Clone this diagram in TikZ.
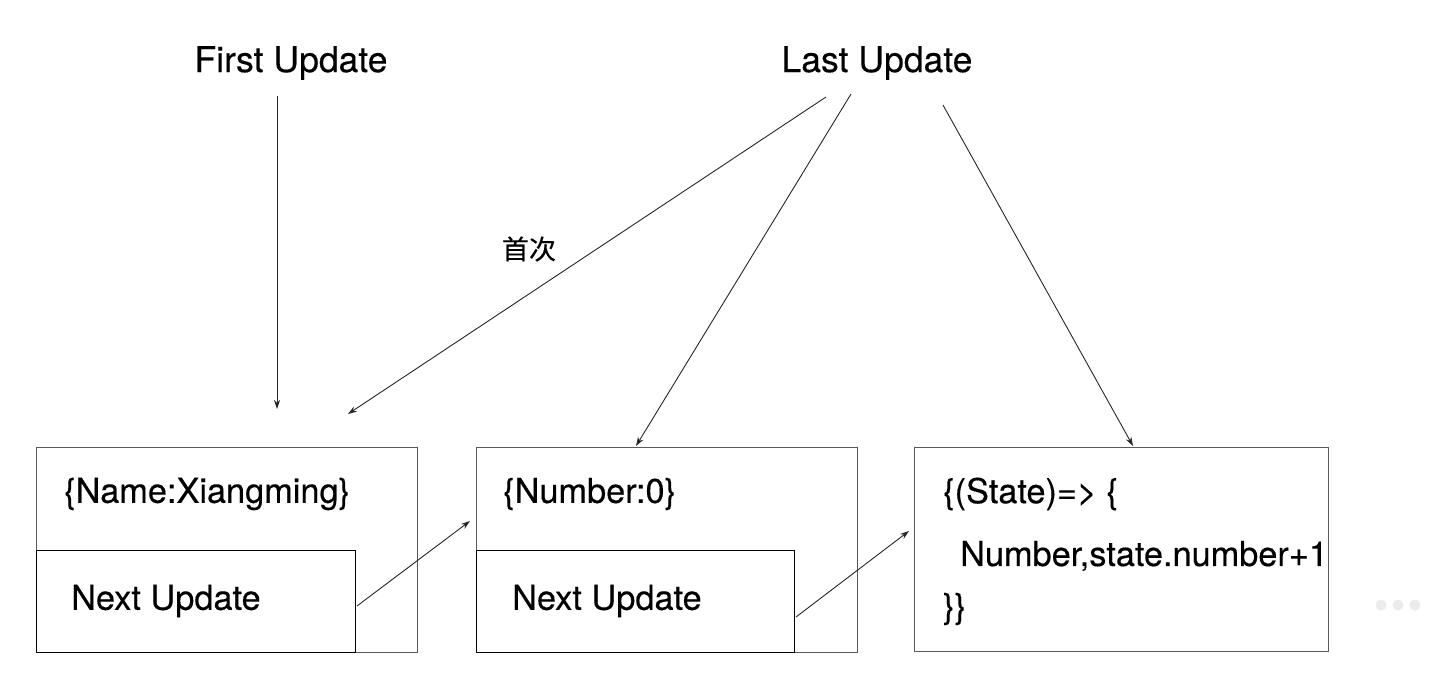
\documentclass[tikz,border=0pt]{standalone}
\usepackage{fontspec}
\setmainfont{TeX Gyre Heros}[FakeBold=0.3]
\newfontfamily\cjk{Noto Sans CJK SC}[FakeBold=0.3]
\usetikzlibrary{arrows.meta}
\tikzset{
  outerbox/.style={draw=black!65, line width=1.3pt, fill=white, inner sep=0pt, anchor=north west},
  innerbox/.style={draw=black, line width=1.3pt, fill=white, inner sep=0pt, anchor=north west},
  title/.style={font=\fontsize{35.5}{42}\selectfont, inner sep=0pt},
  boxtext/.style={font=\fontsize{34.3}{42}\selectfont, inner sep=0pt, anchor=west},
  conn/.style={draw=black!85, line width=0.9pt, -{Stealth[length=9pt,width=6pt]}},
  dot/.style={circle, fill=black!8, draw=none, minimum size=11pt, inner sep=0pt}
}
\begin{document}
\begin{tikzpicture}[x=1pt,y=-1pt]
\useasboundingbox (0,0) rectangle (1450,690);
% titles
\node[title] (first) at (291,63) {First Update};
\node[title] (last) at (877,63) {Last Update};
\node[font=\cjk\fontsize{27}{32}\selectfont, inner sep=0pt] (shouci) at (529,249) {首次};
% boxes
\node[outerbox, minimum width=381pt, minimum height=205pt] (b1) at (36,447) {};
\node[innerbox, minimum width=319pt, minimum height=102pt] (n1) at (36,550) {};
\node[outerbox, minimum width=381pt, minimum height=205pt] (b2) at (476,447) {};
\node[innerbox, minimum width=318pt, minimum height=102pt] (n2) at (476,550) {};
\node[outerbox, minimum width=414pt, minimum height=204pt] (b3) at (914,447) {};
% box texts
\node[boxtext] (t1) at (64,494) {\{Name:Xiangming\}};
\node[boxtext] (t1n) at (71,601) {Next Update};
\node[boxtext] (t2) at (503,494) {\{Number:0\}};
\node[boxtext] (t2n) at (512,601) {Next Update};
\node[boxtext] (t3a) at (943,494) {\{(State)=> \{};
\node[boxtext] (t3b) at (960,556) {Number,state.number+1};
\node[boxtext] (t3c) at (943,609) {\}\}};
% connector end points
\coordinate (fs) at (277,96);
\coordinate (fe) at (277,409);
\coordinate (l1s) at (826,97);
\coordinate (l1e) at (348,414);
\coordinate (l2s) at (851,94);
\coordinate (l2e) at (636,446);
\coordinate (l3s) at (943,105);
\coordinate (l3e) at (1133,446);
\coordinate (n1s) at (357,606);
\coordinate (n1e) at (470,521);
\coordinate (n2s) at (796,617);
\coordinate (n2e) at (909,531);
% connectors
\draw[conn] (fs) -- (fe);
\draw[conn] (l1s) -- (l1e);
\draw[conn] (l2s) -- (l2e);
\draw[conn] (l3s) -- (l3e);
\draw[conn] (n1s) -- (n1e);
\draw[conn] (n2s) -- (n2e);
% dots
\node[dot] (d1) at (1381,605) {};
\node[dot] (d2) at (1398,605) {};
\node[dot] (d3) at (1415,605) {};
\end{tikzpicture}
\end{document}
